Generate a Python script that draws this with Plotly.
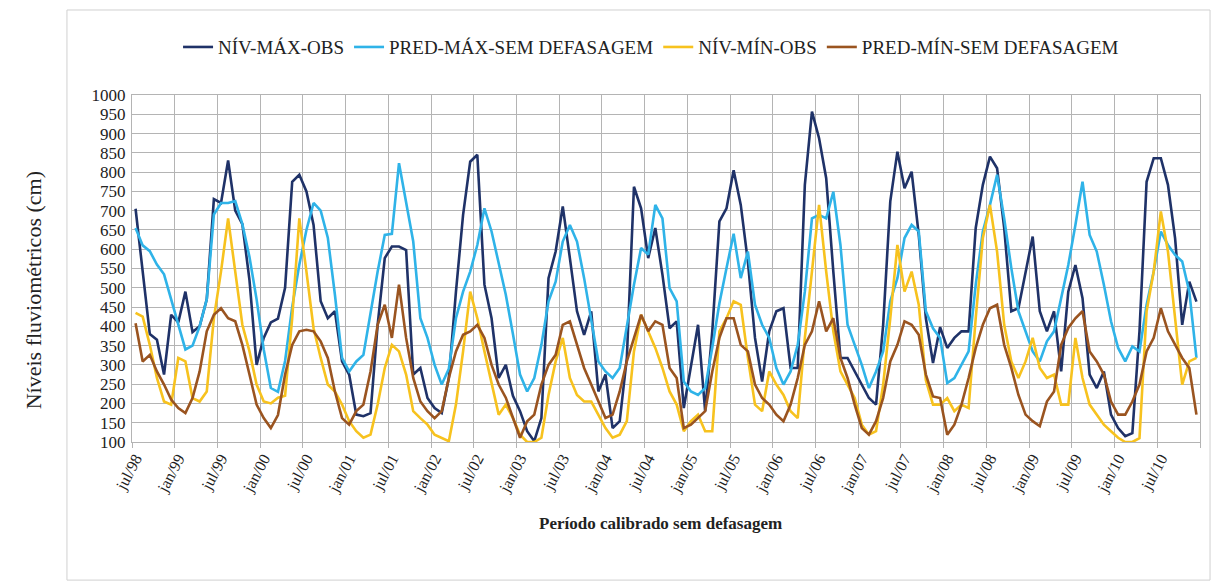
import plotly.graph_objects as go

# ---- data (jul/98 .. dez/10, monthly) ----
month_names = ['jan', 'fev', 'mar', 'abr', 'mai', 'jun', 'jul', 'ago', 'set', 'out', 'nov', 'dez']
start_year = 1998
start_month = 7
n_months = 150
categories = []
for k in range(n_months):
    m = (start_month - 1 + k) % 12
    y = start_year + (start_month - 1 + k) // 12
    categories.append(f"{month_names[m]}/{y % 100:02d}")

niv_max_obs = [
    705, 540, 380, 365, 275, 430, 410, 490, 385, 400, 470, 730, 720, 830, 700, 665, 520, 300, 370, 410,
    420, 500, 775, 793, 750, 663, 465, 421, 439, 309, 275, 171, 167, 175, 404, 577, 607, 607, 598, 275,
    292, 214, 188, 175, 266, 490, 689, 827, 845, 508, 421, 266, 300, 220, 180, 128, 102, 162, 525, 594,
    711, 577, 439, 378, 439, 231, 275, 136, 154, 318, 762, 706, 577, 655, 534, 395, 413, 188, 300, 404,
    180, 387, 672, 706, 805, 715, 568, 370, 257, 387, 439, 447, 292, 292, 767, 957, 888, 784, 542, 318,
    318, 283, 249, 214, 197, 404, 724, 853, 758, 801, 637, 421, 305, 398, 344, 370, 387, 387, 655, 767,
    840, 810, 655, 439, 447, 542, 633, 439, 387, 439, 283, 490, 559, 473, 275, 240, 283, 171, 136, 115,
    123, 387, 775, 836, 836, 767, 629, 404, 516, 464]

pred_max = [
    655, 610, 595, 560, 535, 470, 400, 340, 350, 400, 470, 690, 720, 720, 725, 665, 580, 470, 340, 240,
    230, 310, 450, 560, 650, 720, 700, 630, 482, 318, 283, 309, 326, 439, 542, 637, 640, 823, 724, 620,
    421, 370, 300, 249, 290, 421, 490, 542, 611, 706, 646, 568, 482, 380, 275, 231, 266, 352, 465, 516,
    620, 663, 620, 525, 421, 309, 283, 266, 292, 404, 508, 603, 586, 715, 680, 499, 465, 257, 231, 222,
    240, 345, 460, 551, 640, 525, 594, 456, 404, 370, 292, 249, 283, 352, 490, 680, 689, 680, 749, 611,
    404, 352, 300, 240, 283, 335, 465, 525, 629, 663, 646, 439, 395, 370, 253, 266, 300, 335, 508, 646,
    715, 793, 680, 551, 439, 387, 335, 309, 361, 387, 473, 559, 663, 775, 637, 594, 508, 413, 344, 309,
    348, 335, 456, 542, 646, 611, 585, 568, 490, 318]

niv_min_obs = [
    435, 425, 352, 266, 205, 197, 318, 309, 214, 205, 231, 421, 542, 680, 542, 404, 335, 249, 205, 200,
    215, 220, 421, 680, 542, 395, 318, 249, 231, 197, 154, 128, 111, 119, 197, 292, 352, 335, 275, 180,
    162, 145, 119, 111, 102, 197, 335, 490, 421, 335, 249, 171, 197, 162, 119, 100, 100, 111, 222, 309,
    370, 266, 222, 205, 205, 171, 136, 111, 119, 154, 335, 430, 387, 344, 292, 231, 197, 128, 154, 171,
    128, 128, 387, 421, 465, 456, 318, 197, 180, 283, 249, 222, 180, 162, 370, 542, 715, 542, 387, 283,
    249, 214, 145, 119, 128, 249, 421, 611, 490, 542, 456, 260, 197, 197, 214, 180, 197, 188, 421, 629,
    715, 594, 404, 309, 266, 309, 370, 292, 266, 275, 197, 197, 370, 266, 197, 171, 145, 128, 111, 100,
    100, 110, 439, 542, 698, 594, 421, 249, 309, 318]

pred_min = [
    408, 309, 326, 283, 249, 210, 188, 175, 214, 283, 387, 430, 447, 421, 413, 352, 275, 197, 162, 136,
    170, 275, 352, 387, 391, 387, 361, 318, 231, 162, 145, 180, 197, 283, 404, 456, 370, 508, 370, 266,
    205, 180, 162, 180, 266, 335, 378, 387, 404, 370, 300, 249, 215, 160, 111, 154, 171, 249, 300, 326,
    404, 413, 352, 292, 249, 205, 162, 171, 231, 309, 370, 430, 387, 413, 404, 292, 266, 136, 145, 162,
    180, 283, 370, 421, 421, 352, 335, 249, 214, 197, 171, 154, 197, 266, 352, 387, 465, 387, 421, 318,
    266, 197, 136, 119, 154, 214, 309, 352, 413, 404, 378, 275, 218, 214, 119, 145, 197, 266, 344, 404,
    447, 456, 352, 292, 222, 171, 154, 141, 205, 231, 352, 396, 421, 439, 335, 309, 275, 205, 171, 171,
    205, 249, 335, 370, 447, 387, 352, 318, 292, 171]

series_names = ['NÍV-MÁX-OBS', 'PRED-MÁX-SEM DEFASAGEM', 'NÍV-MÍN-OBS', 'PRED-MÍN-SEM DEFASAGEM']
series_values = [niv_max_obs, pred_max, niv_min_obs, pred_min]
series_colors = ['#1f3268', '#2fb3e8', '#f7c21e', '#9a5420']

x_idx = list(range(len(categories)))
tick_idx = [k for k, c in enumerate(categories) if c.startswith('jan') or c.startswith('jul')]
tick_txt = [categories[k] for k in tick_idx]

FONT = 'Liberation Serif, Times New Roman, DejaVu Serif, serif'
GRID = '#b4b4b4'

fig = go.Figure()
for name, vals, col in zip(series_names, series_values, series_colors):
    fig.add_trace(go.Scatter(
        x=x_idx, y=vals, mode='lines', name=name,
        line=dict(color=col, width=2.6),
        customdata=categories,
        hovertemplate='%{customdata}: %{y}<extra>' + name + '</extra>'))

fig.update_layout(
    width=1215, height=584,
    margin=dict(l=132, r=15, t=95, b=142),
    paper_bgcolor='white', plot_bgcolor='white',
    font=dict(family=FONT, color='#222222'),
    showlegend=True,
    legend=dict(orientation='h', x=0.486, xanchor='center', y=1.138, yanchor='middle',
                font=dict(family=FONT, size=19, color='#222222'),
                itemwidth=30, tracegroupgap=0, bgcolor='rgba(0,0,0,0)'),
    xaxis=dict(
        range=[-0.5, len(categories) - 0.5],
        tickmode='array', tickvals=tick_idx, ticktext=tick_txt,
        tickangle=-62, tickfont=dict(family=FONT, size=16, color='#222222'),
        showgrid=False, zeroline=False,
        showline=True, linecolor=GRID, linewidth=1, mirror=True,
        ticks='', ticklen=0,
        minor=dict(tickmode='linear', tick0=-0.5, dtick=6, showgrid=True,
                   gridcolor=GRID, gridwidth=1, ticks='outside', ticklen=5, tickcolor=GRID),
    ),
    yaxis=dict(
        range=[100, 1000], tickmode='linear', tick0=100, dtick=50,
        tickfont=dict(family=FONT, size=17, color='#222222'),
        showgrid=True, gridcolor=GRID, gridwidth=1, zeroline=False,
        showline=True, linecolor=GRID, linewidth=1, mirror=True,
        ticks='', ticklabelstandoff=2,
    ),
)

# outer chart-area frame
fig.add_shape(type='rect', xref='paper', yref='paper',
              x0=-0.0609, x1=1.0094, y0=-0.398, y1=1.245,
              line=dict(color='#d0d0d0', width=1), fillcolor='rgba(0,0,0,0)', layer='below')

fig.add_annotation(text='Níveis fluviométricos (cm)', xref='paper', yref='paper',
                   x=-0.106, y=0.438, textangle=-90, showarrow=False,
                   font=dict(family=FONT, size=22, color='#222222'))
fig.add_annotation(text='<b>Período calibrado sem defasagem</b>', xref='paper', yref='paper',
                   x=0.495, y=-0.235, showarrow=False, xanchor='center', yanchor='middle',
                   font=dict(family=FONT, size=17, color='#222222'))

fig.write_html('out.html')
